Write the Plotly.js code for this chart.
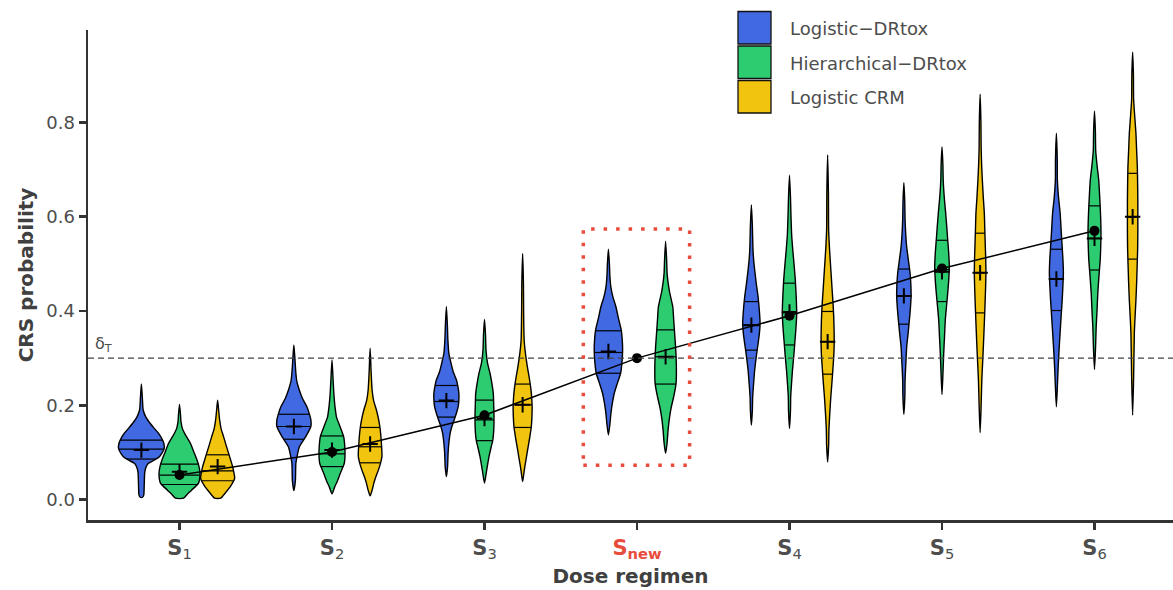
<!DOCTYPE html>
<html>
<head>
<meta charset="utf-8">
<script src="https://cdn.plot.ly/plotly-3.0.1.min.js"></script>
<style>html,body{margin:0;padding:0;background:#fff;}#chart{width:1173px;height:590px;}</style>
</head>
<body>
<div id="chart"></div>
<script>
// ---------------- DATA ----------------
const regimens = ['S1', 'S2', 'S3', 'Snew', 'S4', 'S5', 'S6'];
const tickLabels = ['<b>S</b><sub>1</sub>', '<b>S</b><sub>2</sub>', '<b>S</b><sub>3</sub>',
  '<span style="color:#e74c3c"><b>S<sub>new</sub></b></span>',
  '<b>S</b><sub>4</sub>', '<b>S</b><sub>5</sub>', '<b>S</b><sub>6</sub>'];
const modelNames = ['Logistic\u2212DRtox', 'Hierarchical\u2212DRtox', 'Logistic CRM'];
const modelColors = ['#4169e1', '#2ecc71', '#f1c40f'];

// true CRS probability per regimen
const trueProb = [0.052, 0.101, 0.179, 0.300, 0.390, 0.490, 0.570];

// posterior means ("+")
const meanLogDR  = [0.105, 0.155, 0.210, 0.314, 0.370, 0.432, 0.468];
const meanHierDR = [0.059, 0.105, 0.172, 0.303, 0.398, 0.483, 0.554];
const meanCRM    = [0.070, 0.118, 0.201, null, 0.335, 0.481, 0.600];

// quantiles drawn inside violins (25%, 50%, 75%)
const q25LogDR  = [0.086, 0.128, 0.175, 0.268, 0.317, 0.372, 0.401];
const q50LogDR  = [0.107, 0.155, 0.208, 0.312, 0.370, 0.432, 0.468];
const q75LogDR  = [0.126, 0.181, 0.242, 0.358, 0.420, 0.489, 0.531];
const q25HierDR = [0.032, 0.070, 0.125, 0.245, 0.328, 0.420, 0.487];
const q50HierDR = [0.052, 0.097, 0.169, 0.303, 0.396, 0.488, 0.554];
const q75HierDR = [0.075, 0.135, 0.211, 0.360, 0.459, 0.550, 0.623];
const q25CRM    = [0.040, 0.078, 0.153, null, 0.266, 0.396, 0.510];
const q50CRM    = [0.061, 0.112, 0.201, null, 0.335, 0.481, 0.599];
const q75CRM    = [0.095, 0.153, 0.245, null, 0.399, 0.565, 0.692];

// density profiles: [probability, relative density] from min to max of each posterior sample
const densLogDR = [
  [[0.005,1.2],[0.010,2.4],[0.027,2.8],[0.056,3.3],[0.068,4.5],[0.077,7],[0.084,13],[0.091,18],[0.107,22.7],[0.119,22.5],[0.133,19.5],[0.141,17],[0.152,12.5],[0.162,8.7],[0.175,4.5],[0.190,1.8],[0.215,1],[0.245,0]],
  [[0.019,0],[0.040,1.5],[0.077,2],[0.095,3.5],[0.112,5.5],[0.133,11.7],[0.155,17],[0.169,17],[0.185,15],[0.197,13],[0.215,8.5],[0.232,5.5],[0.250,3],[0.268,2],[0.300,1],[0.328,0]],
  [[0.049,0],[0.070,1.2],[0.098,1.7],[0.120,2.5],[0.141,3.8],[0.155,5.5],[0.169,7.8],[0.183,10],[0.197,11.8],[0.212,12.5],[0.225,12.5],[0.240,11.5],[0.254,10],[0.270,7],[0.289,4.7],[0.310,2.5],[0.339,1.5],[0.370,1],[0.409,0]],
  [[0.137,0],[0.160,1.5],[0.183,2.5],[0.205,4],[0.225,5.8],[0.247,9],[0.268,12.2],[0.290,13.5],[0.317,14.2],[0.340,13.8],[0.360,12.8],[0.385,10],[0.409,7.5],[0.430,4.5],[0.450,2.5],[0.473,1.5],[0.500,1],[0.531,0]],
  [[0.158,0],[0.190,1],[0.218,1.3],[0.245,2.2],[0.275,3.3],[0.305,5],[0.331,6.7],[0.352,8],[0.374,8.7],[0.400,8],[0.430,6.7],[0.460,4.8],[0.487,3.3],[0.510,2.2],[0.536,1.5],[0.580,1],[0.625,0]],
  [[0.181,0],[0.220,1],[0.254,1.2],[0.290,2],[0.324,2.8],[0.352,4.2],[0.381,5.5],[0.405,6.5],[0.430,7.2],[0.455,7],[0.480,6.2],[0.508,4.5],[0.536,2.8],[0.565,1.8],[0.593,1.2],[0.630,0.9],[0.672,0]],
  [[0.197,0],[0.240,1],[0.282,1.8],[0.318,2.7],[0.353,3.7],[0.390,4.8],[0.423,5.8],[0.452,6.5],[0.480,7],[0.508,6.6],[0.536,5.8],[0.570,4.8],[0.607,3.8],[0.640,2.2],[0.678,1],[0.720,0.9],[0.777,0]]
];
const densHierDR = [
  [[0.003,4],[0.012,8],[0.020,12],[0.035,19],[0.056,20.5],[0.070,19.5],[0.084,17.5],[0.100,14.5],[0.119,11],[0.135,6.5],[0.150,3],[0.165,1.5],[0.180,1],[0.202,0]],
  [[0.012,0],[0.027,2.7],[0.040,5.5],[0.056,8.3],[0.077,12.3],[0.095,13],[0.112,12.8],[0.133,11.7],[0.155,8],[0.175,4.5],[0.197,3],[0.220,2],[0.250,1.2],[0.296,0]],
  [[0.035,0],[0.060,2],[0.091,4.5],[0.110,6.5],[0.126,8.3],[0.150,9.3],[0.176,9.5],[0.200,9.2],[0.225,8.8],[0.245,7.5],[0.268,5.5],[0.290,3],[0.317,1.5],[0.350,1],[0.382,0]],
  [[0.098,0],[0.120,1.5],[0.148,2.5],[0.175,4],[0.197,5.8],[0.222,8.5],[0.247,10.5],[0.275,10.8],[0.303,10.5],[0.330,9.8],[0.360,8.8],[0.385,8],[0.409,7.2],[0.440,4],[0.460,2.5],[0.480,1.5],[0.510,1],[0.548,0]],
  [[0.151,0],[0.190,1],[0.218,1.2],[0.245,2],[0.275,3],[0.305,4.3],[0.338,5.5],[0.365,6.5],[0.395,7.2],[0.430,6.7],[0.466,5.8],[0.500,4.5],[0.529,3.3],[0.560,2.2],[0.600,1.5],[0.640,1],[0.688,0]],
  [[0.223,0],[0.270,1],[0.310,1.7],[0.345,2.5],[0.381,3.3],[0.410,4.5],[0.438,5.7],[0.465,6.7],[0.494,7.3],[0.523,6.7],[0.551,5.7],[0.580,4.7],[0.607,3.7],[0.640,2.3],[0.678,1.2],[0.710,0.9],[0.748,0]],
  [[0.276,0],[0.320,1],[0.367,1.7],[0.400,2.5],[0.438,3.3],[0.475,4.5],[0.508,5.7],[0.535,6.2],[0.565,6.5],[0.595,6.2],[0.621,5.7],[0.650,5],[0.678,4.2],[0.710,2.5],[0.741,1.2],[0.780,0.9],[0.824,0]]
];
const densCRM = [
  [[0.003,3],[0.015,8],[0.027,12.5],[0.045,17],[0.060,16],[0.070,15],[0.084,13],[0.098,11],[0.115,8.5],[0.133,6],[0.150,3.5],[0.169,2],[0.190,1],[0.211,0]],
  [[0.008,0],[0.020,2],[0.035,3.7],[0.050,6],[0.063,8.3],[0.078,10.5],[0.091,11.8],[0.119,11.3],[0.155,9.7],[0.175,8],[0.190,6.3],[0.210,3.5],[0.232,2],[0.270,1],[0.321,0]],
  [[0.038,0],[0.055,1.2],[0.070,2.2],[0.090,3.8],[0.112,5.5],[0.133,7.2],[0.155,8.7],[0.176,9.3],[0.197,9.5],[0.218,9],[0.239,8],[0.260,6.5],[0.282,4.7],[0.310,2.8],[0.339,1.5],[0.400,1],[0.460,0.8],[0.522,0]],
  null,
  [[0.080,0],[0.115,1],[0.148,1.3],[0.185,2.2],[0.218,3.2],[0.245,4.2],[0.275,5.2],[0.300,6],[0.324,6.5],[0.352,6.5],[0.381,6.2],[0.413,5.5],[0.445,4.5],[0.475,3.6],[0.501,2.8],[0.535,1.8],[0.572,1],[0.650,0.8],[0.731,0]],
  [[0.142,0],[0.200,1],[0.254,1.7],[0.295,2.6],[0.338,3.5],[0.375,4.2],[0.409,4.8],[0.445,5.4],[0.480,5.8],[0.510,5.6],[0.536,5.2],[0.570,4.7],[0.607,4.2],[0.640,3.2],[0.678,2.2],[0.710,1.5],[0.748,1],[0.800,0.8],[0.860,0]],
  [[0.179,0],[0.260,1],[0.353,1.7],[0.390,2.5],[0.423,3.3],[0.460,4],[0.494,4.5],[0.530,5],[0.565,5.2],[0.600,5.2],[0.635,5.2],[0.670,5],[0.706,4.7],[0.740,4],[0.777,3.3],[0.810,2.2],[0.848,1],[0.900,0.8],[0.949,0]]
];
const deltaT = 0.3;
const yTicks = [0, 0.2, 0.4, 0.6, 0.8];
const yTickText = ['0.0', '0.2', '0.4', '0.6', '0.8'];

// ---------------- DRAWING ----------------
const FONT = 'DejaVu Sans, Liberation Sans, Arial, sans-serif';
const DENS_SCALE = 1 / 152.5;   // density unit -> x-axis units
const DODGE = 0.75;             // total dodge width per regimen

const models = [
  {dens: densLogDR, mean: meanLogDR, q: [q25LogDR, q50LogDR, q75LogDR]},
  {dens: densHierDR, mean: meanHierDR, q: [q25HierDR, q50HierDR, q75HierDR]},
  {dens: densCRM, mean: meanCRM, q: [q25CRM, q50CRM, q75CRM]}
];

function centerOf(r, m) {
  const present = models.map((mm, i) => mm.dens[r] ? i : -1).filter(i => i >= 0);
  const n = present.length, k = present.indexOf(m);
  return (r + 1) + (DODGE / n) * (k - (n - 1) / 2);
}
function widthAt(prof, y) {
  for (let i = 0; i < prof.length - 1; i++) {
    if (y >= prof[i][0] && y <= prof[i + 1][0]) {
      const t = (y - prof[i][0]) / (prof[i + 1][0] - prof[i][0]);
      return prof[i][1] + t * (prof[i + 1][1] - prof[i][1]);
    }
  }
  return 0;
}

const traces = [];
models.forEach((mm, m) => {
  mm.dens.forEach((prof, r) => {
    if (!prof) return;
    const cx = centerOf(r, m);
    const xs = [], ys = [];
    for (let i = 0; i < prof.length; i++) { xs.push(cx - prof[i][1] * DENS_SCALE); ys.push(prof[i][0]); }
    for (let i = prof.length - 2; i >= 0; i--) { xs.push(cx + prof[i][1] * DENS_SCALE); ys.push(prof[i][0]); }
    if (prof[0][1] > 0) { xs.push(xs[0]); ys.push(ys[0]); }
    traces.push({type: 'scatter', mode: 'lines', x: xs, y: ys, fill: 'toself',
      fillcolor: modelColors[m], line: {color: '#000', width: 1.4, shape: 'spline', smoothing: 0.6},
      hoverinfo: 'skip', showlegend: false});
  });
});
// quantile lines
models.forEach((mm, m) => {
  const xs = [], ys = [];
  mm.dens.forEach((prof, r) => {
    if (!prof) return;
    const cx = centerOf(r, m);
    mm.q.forEach(qa => {
      const qv = qa[r];
      const w = widthAt(prof, qv) * DENS_SCALE;
      xs.push(cx - w, cx + w, null); ys.push(qv, qv, null);
    });
  });
  traces.push({type: 'scatter', mode: 'lines', x: xs, y: ys, line: {color: '#000', width: 1.2},
    hoverinfo: 'skip', showlegend: false});
});
// true probability line
traces.push({type: 'scatter', mode: 'lines+markers', x: regimens.map((_, i) => i + 1), y: trueProb,
  line: {color: '#000', width: 1.5}, marker: {color: '#000', size: 10}, hoverinfo: 'skip', showlegend: false});
// mean markers
models.forEach((mm, m) => {
  const xs = [], ys = [];
  mm.mean.forEach((v, r) => { if (v == null) return; xs.push(centerOf(r, m)); ys.push(v); });
  traces.push({type: 'scatter', mode: 'markers', x: xs, y: ys,
    marker: {symbol: 'cross-thin', size: 11, line: {color: '#000', width: 2}},
    hoverinfo: 'skip', showlegend: false});
});

// manual legend (large keys as in the reference)
const shapes = [];
const annotations = [];
const L = 88, W = 1085, T = 30, H = 490;
const px = x => (x - L) / W, py = y => (T + H - y) / H;
modelNames.forEach((nm, i) => {
  const top = 11.5 + i * 34.5;
  shapes.push({type: 'rect', xref: 'paper', yref: 'paper', x0: px(738), x1: px(771),
    y0: py(top + 32.5), y1: py(top), fillcolor: modelColors[i], line: {color: '#111', width: 1.3}, layer: 'above'});
  annotations.push({xref: 'paper', yref: 'paper', x: px(788), y: py(top + 17), xanchor: 'left', yanchor: 'middle',
    text: nm, showarrow: false, font: {family: FONT, size: 18, color: '#4d4d4d'}});
});
// threshold line
shapes.push({type: 'line', xref: 'paper', yref: 'y', x0: 0, x1: 1, y0: deltaT, y1: deltaT,
  line: {color: '#444', width: 1.1, dash: '6px,4px'}, layer: 'above'});
annotations.push({xref: 'paper', yref: 'y', x: px(93), y: deltaT, xanchor: 'left', yanchor: 'bottom', yshift: 1,
  text: '\u03b4<sub>T</sub>', showarrow: false, font: {family: FONT, size: 16, color: '#4d4d4d'}});
// highlight box around S_new
shapes.push({type: 'rect', xref: 'x', yref: 'y', x0: 4 - 0.352, x1: 4 + 0.345, y0: 0.073, y1: 0.574,
  line: {color: '#e74c3c', width: 3.5, dash: '3.5px,9px'}, fillcolor: 'rgba(0,0,0,0)', layer: 'above'});

const layout = {
  width: 1173, height: 590,
  margin: {l: L, r: 0, t: T, b: 590 - T - H, pad: 0},
  paper_bgcolor: '#fff', plot_bgcolor: '#fff',
  showlegend: false,
  hovermode: false,
  xaxis: {
    range: [0.4, 0.4 + W / 152.5], tickvals: regimens.map((_, i) => i + 1), ticktext: tickLabels,
    showgrid: false, zeroline: false, showline: true, linecolor: '#333', linewidth: 2.5,
    ticks: 'outside', ticklen: 7, tickwidth: 2.5, tickcolor: '#333',
    tickfont: {family: FONT, size: 21, color: '#4d4d4d'},
    title: {text: 'Dose regimen', standoff: 8, font: {family: FONT, size: 20, color: '#404040', weight: 'bold'}},
    automargin: false
  },
  yaxis: {
    range: [-0.0433, 0.996], tickvals: yTicks, ticktext: yTickText,
    showgrid: false, zeroline: false, showline: true, linecolor: '#333', linewidth: 2.5,
    ticks: 'outside', ticklen: 7, tickwidth: 2.5, tickcolor: '#333',
    tickfont: {family: FONT, size: 18, color: '#4d4d4d'},
    title: {text: 'CRS probability', standoff: 8, font: {family: FONT, size: 20, color: '#404040', weight: 'bold'}},
    automargin: false
  },
  shapes: shapes,
  annotations: annotations,
  font: {family: FONT}
};
Plotly.newPlot('chart', traces, layout, {displayModeBar: false, staticPlot: true});
</script>
</body>
</html>
